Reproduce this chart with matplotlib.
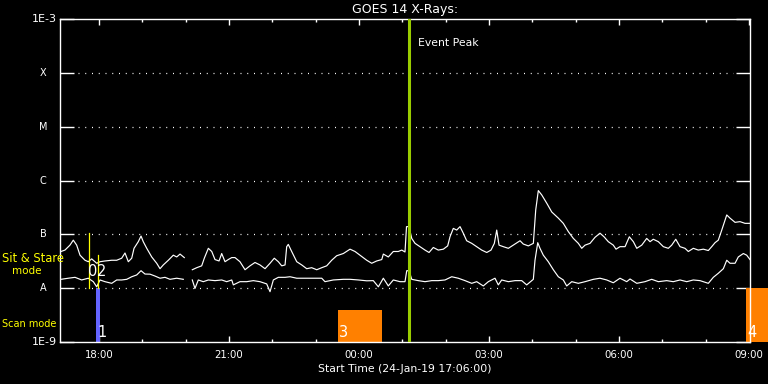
import numpy as np
import matplotlib
matplotlib.use("Agg")
import matplotlib.pyplot as plt

# ---- data: minutes after start time (24-Jan-19 17:06:00) and flux (W/m^2)
long_t = [1.4, 6.9, 13.8, 18.4, 23.1, 27.7, 34.6, 39.2, 43.9, 50.8, 55.4, 62.3, 71.6, 78.5, 85.4, 90.0,
          94.6, 99.3, 102.5, 108.4, 112.2, 115.3, 120.1, 127.0, 133.9, 138.5, 143.0, 150.0, 156.9, 161.6,
          166.2, 172.1, 178.0,
          183.2, 189.3, 196.2, 199.8, 205.4, 210.1, 214.6, 220.2, 223.9, 228.5, 233.0, 237.8, 242.3, 249.2,
          256.2, 263.1, 270.0, 276.9, 283.9, 290.8, 296.7, 302.3, 307.0, 311.6, 313.9, 316.1, 320.8, 327.8,
          334.7, 341.6, 348.5, 355.5, 362.4, 369.3, 376.2, 383.1, 392.3, 401.6, 408.5, 415.4, 424.7, 431.6,
          438.5, 445.5, 447.7, 454.6, 461.5, 468.4, 473.2, 477.7, 479.8, 483.3, 487.0, 491.6, 498.5, 505.4,
          511.0, 516.9, 523.8, 530.8, 536.8, 540.0, 544.6, 549.3, 553.9, 558.4, 563.1, 570.1, 577.0, 583.9,
          590.9, 596.8, 601.4, 604.7, 607.9, 613.8, 620.8, 627.7, 637.0, 641.5, 648.5, 655.4, 658.7, 662.3,
          667.0, 673.9, 680.9, 690.0, 696.9, 703.9, 710.8, 717.7, 722.4, 727.0, 733.9, 740.8, 747.7, 753.3,
          759.2, 766.1, 769.9, 775.4, 782.4, 788.3, 793.9, 798.6, 805.5, 812.4, 817.0, 821.5, 828.5, 835.4,
          842.3, 847.0, 852.6, 858.5, 865.4, 870.0, 876.9, 883.8, 890.8, 897.7, 902.4, 907.0, 911.5, 916.3,
          923.2, 927.7, 934.7, 941.6, 948.5, 955.4]
long_f = [4.8e-8, 5.1e-8, 6.3e-8, 7.8e-8, 6.3e-8, 4.1e-8, 3.3e-8, 3.1e-8, 3.5e-8, 2.9e-8, 3.1e-8, 3.2e-8,
          3.3e-8, 3.3e-8, 3.6e-8, 4.5e-8, 3.1e-8, 3.6e-8, 5.5e-8, 7.3e-8, 9.3e-8, 7.3e-8, 5.5e-8, 3.8e-8,
          2.9e-8, 2.3e-8, 2.7e-8, 3.3e-8, 4.1e-8, 3.8e-8, 4.3e-8, 3.7e-8, np.nan,
          2.2e-8, 2.4e-8, 2.6e-8, 3.6e-8, 5.5e-8, 4.8e-8, 3.4e-8, 3.2e-8, 4.4e-8, 3.1e-8, 3.4e-8, 3.7e-8,
          3.7e-8, 3.1e-8, 2.2e-8, 2.6e-8, 3.0e-8, 2.7e-8, 2.3e-8, 2.9e-8, 3.6e-8, 3.1e-8, 2.6e-8, 2.7e-8,
          5.9e-8, 6.5e-8, 4.8e-8, 3.1e-8, 2.7e-8, 2.3e-8, 2.4e-8, 2.2e-8, 2.4e-8, 2.6e-8, 3.3e-8, 4.0e-8,
          4.4e-8, 5.3e-8, 4.8e-8, 4.1e-8, 3.3e-8, 2.9e-8, 3.2e-8, 3.4e-8, 4.3e-8, 3.8e-8, 4.8e-8, 4.8e-8,
          5.1e-8, 4.7e-8, 1.39e-7, 1.39e-7, 8.4e-8, 6.8e-8, 5.9e-8, 5.1e-8, 4.6e-8, 5.7e-8, 5.1e-8, 5.3e-8,
          6.1e-8, 9.0e-8, 1.29e-7, 1.20e-7, 1.39e-7, 1.05e-7, 7.6e-8, 6.8e-8, 5.9e-8, 5.1e-8, 4.6e-8, 5.1e-8,
          6.8e-8, 1.20e-7, 6.3e-8, 5.9e-8, 5.5e-8, 6.3e-8, 7.6e-8, 6.6e-8, 6.1e-8, 6.8e-8, 2.83e-7, 6.5e-7,
          5.4e-7, 3.8e-7, 2.6e-7, 2.0e-7, 1.6e-7, 1.12e-7, 8.4e-8, 6.8e-8, 5.5e-8, 6.3e-8, 6.8e-8, 8.8e-8,
          1.05e-7, 9.0e-8, 7.3e-8, 6.3e-8, 5.3e-8, 5.9e-8, 5.9e-8, 9.0e-8, 7.3e-8, 5.5e-8, 6.3e-8, 8.4e-8,
          7.3e-8, 8.1e-8, 7.3e-8, 5.9e-8, 5.5e-8, 6.3e-8, 8.1e-8, 5.9e-8, 5.5e-8, 4.8e-8, 5.5e-8, 5.1e-8,
          5.3e-8, 5.0e-8, 5.9e-8, 7.0e-8, 7.8e-8, 1.20e-7, 2.29e-7, 2.0e-7, 1.67e-7, 1.72e-7, 1.60e-7, 1.60e-7]

short_t = [1.4, 11.5, 20.8, 30.0, 39.2, 46.1, 50.8, 55.4, 62.3, 71.6, 78.5, 85.4, 92.4, 99.3, 106.2, 112.2,
           117.7, 124.6, 131.5, 138.5, 145.4, 152.3, 161.6, 170.7, 178.0,
           183.2, 186.9, 191.5, 198.4, 205.4, 214.6, 223.9, 230.8, 237.8, 240.0, 249.2, 258.5, 267.7, 276.9,
           286.2, 290.8, 295.4, 302.3, 311.6, 318.5, 327.8, 336.9, 350.8, 362.4, 366.9, 378.4, 392.3, 401.6,
           413.1, 424.7, 433.8, 440.8, 447.7, 454.6, 461.5, 470.8, 477.7, 480.1, 483.3, 487.0, 496.1, 505.4,
           514.7, 523.8, 533.1, 542.4, 551.5, 560.8, 570.1, 577.0, 586.1, 593.1, 602.3, 606.9, 611.6, 620.8,
           630.1, 639.3, 646.2, 655.4, 657.7, 661.5, 664.6, 669.2, 676.1, 683.1, 690.0, 696.9, 701.6, 708.6,
           717.7, 727.0, 738.5, 747.7, 757.0, 766.1, 775.4, 784.7, 789.3, 798.6, 810.0, 819.3, 828.5, 840.1,
           849.2, 858.5, 867.8, 876.9, 886.2, 897.7, 904.6, 911.5, 918.5, 923.2, 927.7, 934.7, 939.2, 946.2,
           950.8, 955.4]
short_f = [1.46e-8, 1.53e-8, 1.59e-8, 1.42e-8, 1.53e-8, 1.32e-8, 1.06e-8, 1.42e-8, 1.32e-8, 1.23e-8,
           1.42e-8, 1.42e-8, 1.46e-8, 1.63e-8, 1.76e-8, 2.11e-8, 1.83e-8, 1.82e-8, 1.68e-8, 1.53e-8,
           1.59e-8, 1.46e-8, 1.53e-8, 1.46e-8, np.nan,
           1.42e-8, 9.9e-9, 1.42e-8, 1.32e-8, 1.42e-8, 1.38e-8, 1.42e-8, 1.32e-8, 1.42e-8, 1.15e-8, 1.32e-8,
           1.32e-8, 1.38e-8, 1.32e-8, 1.20e-8, 8.6e-9, 1.42e-8, 1.59e-8, 1.59e-8, 1.63e-8, 1.53e-8, 1.53e-8,
           1.53e-8, 1.53e-8, 1.32e-8, 1.42e-8, 1.46e-8, 1.46e-8, 1.42e-8, 1.37e-8, 1.38e-8, 1.06e-8, 1.53e-8,
           1.10e-8, 1.42e-8, 1.32e-8, 1.32e-8, 2.11e-8, 2.11e-8, 1.46e-8, 1.38e-8, 1.32e-8, 1.38e-8, 1.38e-8,
           1.42e-8, 1.63e-8, 1.53e-8, 1.38e-8, 1.23e-8, 1.32e-8, 1.10e-8, 1.32e-8, 1.53e-8, 1.15e-8, 1.42e-8,
           1.32e-8, 1.38e-8, 1.38e-8, 1.15e-8, 1.46e-8, 3.3e-8, 7.0e-8, 5.5e-8, 4.1e-8, 3.1e-8, 2.2e-8,
           1.63e-8, 1.42e-8, 1.10e-8, 1.32e-8, 1.23e-8, 1.32e-8, 1.46e-8, 1.53e-8, 1.42e-8, 1.26e-8, 1.53e-8,
           1.32e-8, 1.48e-8, 1.23e-8, 1.32e-8, 1.46e-8, 1.32e-8, 1.38e-8, 1.32e-8, 1.42e-8, 1.32e-8, 1.42e-8,
           1.38e-8, 1.23e-8, 1.59e-8, 1.89e-8, 2.3e-8, 3.3e-8, 2.9e-8, 2.9e-8, 3.8e-8, 4.4e-8, 4.1e-8, 3.4e-8]

x_range = [0, 955.4]
tick_minutes = [54, 234, 414, 594, 774, 954]
tick_labels = ["18:00", "21:00", "00:00", "03:00", "06:00", "09:00"]
minor_minutes = [54 + 60 * k for k in range(16)]
level_values = [1e-9, 1e-8, 1e-7, 1e-6, 1e-5, 1e-4, 1e-3]
level_labels = ["1E-9", "A", "B", "C", "M", "X", "1E-3"]
grid_levels = [1e-8, 1e-7, 1e-6, 1e-5, 1e-4]

event_peak = 483.3
sit_stare_lines = [(40.2, 1.0e-8, 1.05e-7), (52.6, 1.0e-8, 4.1e-8)]
sit_stare_labels = [(45.7, "0"), (58.2, "2")]
scan_blocks = [(49.8, 55.4, 1e-8, "1", "#6464ff"), (385.0, 445.9, 3.9e-9, "3", "#ff8000"),
               (950.0, 980.8, 1e-8, "4", "#ff8000")]

# ---- figure
FS = 7
fig = plt.figure(figsize=(7.68, 3.84), dpi=100, facecolor="black")
ax = fig.add_axes([60 / 768, 42 / 384, 690 / 768, 323 / 384], facecolor="black")
ax.set_yscale("log")
ax.set_xlim(*x_range)
ax.set_ylim(1e-9, 1e-3)

for s in ax.spines.values():
    s.set_color("white")
    s.set_linewidth(1.0)

ax.set_xticks(tick_minutes)
ax.set_xticklabels(tick_labels, color="white", fontsize=7.3)
ax.set_xticks(minor_minutes, minor=True)
ax.tick_params(axis="x", which="major", direction="in", length=4.3, width=1, color="white",
               top=True, bottom=True, pad=6)
ax.tick_params(axis="x", which="minor", direction="in", length=2.2, width=1, color="white",
               top=True, bottom=True)
ax.set_yticks(level_values)
ax.set_yticklabels([])
ax.yaxis.set_minor_locator(matplotlib.ticker.NullLocator())
ax.tick_params(axis="y", which="major", direction="in", length=10, width=1, color="white",
               left=True, right=True)

# y labels
for v, lab in zip(level_values, level_labels):
    if lab.startswith("1E"):
        ax.text(-0.0045, v, lab, transform=ax.get_yaxis_transform(), ha="right", va="center",
                color="white", fontsize=8)
    else:
        ax.text(-0.0245, v, lab, transform=ax.get_yaxis_transform(), ha="center", va="center",
                color="white", fontsize=FS)

# dotted level lines
ytr = ax.get_yaxis_transform()
for v in grid_levels:
    ax.plot([0.026, 0.976], [v, v], transform=ytr, color="white", lw=0.9,
            linestyle=(0, (0.8, 4.6)), zorder=1)

# curves
ax.plot(long_t, long_f, color="white", lw=0.85, zorder=3)
ax.plot(short_t, short_f, color="white", lw=0.85, zorder=3)

# event peak
ax.axvline(event_peak, color="#99cc00", lw=2.2, zorder=4)
ax.text(event_peak + 12.4, 10 ** -3.45, "Event Peak", color="white", fontsize=7.8, ha="left", va="center")

# sit & stare lines
for t, y0, y1 in sit_stare_lines:
    ax.plot([t, t], [y0, y1], color="#ffff00", lw=0.9, zorder=5)
for t, lab in sit_stare_labels:
    ax.text(t, 2.0e-8, lab, color="white", fontsize=10.5, ha="center", va="center", zorder=6)

# scan blocks
for t0, t1, ytop, lab, col in scan_blocks:
    ax.fill_between([t0, t1], [1e-9, 1e-9], [ytop, ytop], color=col, lw=0, zorder=2, clip_on=False)
    ax.text(t0 + 1.5, 1.47e-9, lab, color="white", fontsize=10.5, ha="left", va="center", zorder=6,
            clip_on=False)

# left annotations
fig.text(2 / 768, 1 - 259 / 384, "Sit & Stare", color="#ffff00", fontsize=8.3, ha="left", va="center")
fig.text(12 / 768, 1 - 271 / 384, "mode", color="#ffff00", fontsize=7.5, ha="left", va="center")
fig.text(2 / 768, 1 - 324 / 384, "Scan mode", color="#ffff00", fontsize=7, ha="left", va="center")

# title and x label
fig.text(405 / 768, 1 - 10 / 384, "GOES 14 X-Rays:", color="white", fontsize=9, ha="center", va="center")
fig.text(405 / 768, 1 - 369 / 384, "Start Time (24-Jan-19 17:06:00)", color="white", fontsize=7.8,
         ha="center", va="center")

fig.savefig("out.png", dpi=100, facecolor="black")
